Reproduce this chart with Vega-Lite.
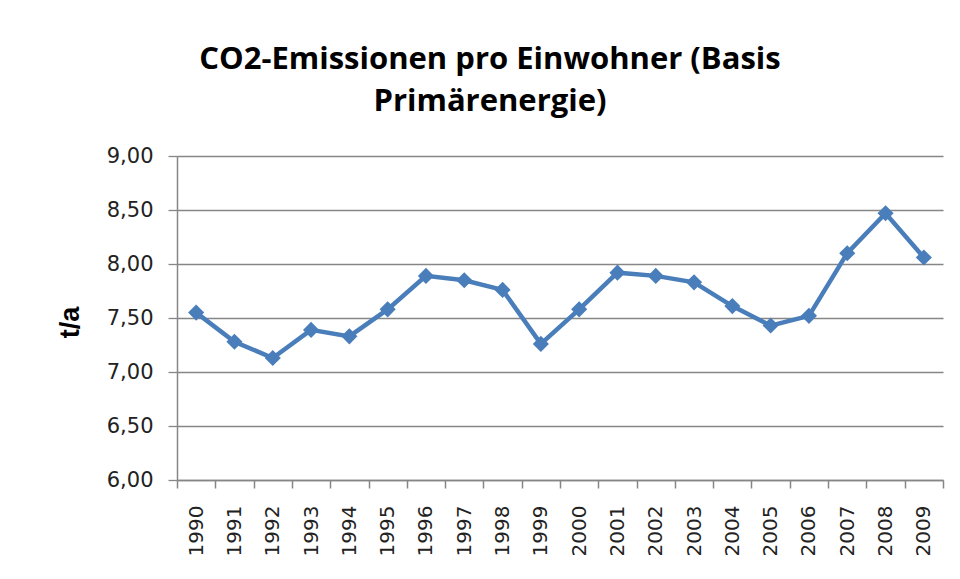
{
  "$schema": "https://vega.github.io/schema/vega-lite/v6.json",
  "width": 766,
  "height": 324,
  "autosize": {"type": "none"},
  "padding": {"left": 177, "top": 156, "right": 17, "bottom": 99},
  "background": "white",
  "title": {
    "text": ["CO2-Emissionen pro Einwohner (Basis", "Primärenergie)"],
    "font": "Open Sans",
    "fontSize": 31,
    "fontWeight": "bold",
    "color": "#000000",
    "anchor": "middle",
    "dx": -70,
    "offset": 27,
    "lineHeight": 42
  },
  "config": {"view": {"stroke": null}},
  "data": {
    "values": [
      {"year": "1990", "value": 7.55},
      {"year": "1991", "value": 7.28},
      {"year": "1992", "value": 7.13},
      {"year": "1993", "value": 7.39},
      {"year": "1994", "value": 7.33},
      {"year": "1995", "value": 7.58},
      {"year": "1996", "value": 7.89},
      {"year": "1997", "value": 7.85},
      {"year": "1998", "value": 7.76},
      {"year": "1999", "value": 7.26},
      {"year": "2000", "value": 7.58},
      {"year": "2001", "value": 7.92},
      {"year": "2002", "value": 7.89},
      {"year": "2003", "value": 7.83},
      {"year": "2004", "value": 7.61},
      {"year": "2005", "value": 7.43},
      {"year": "2006", "value": 7.52},
      {"year": "2007", "value": 8.10},
      {"year": "2008", "value": 8.47},
      {"year": "2009", "value": 8.06}
    ]
  },
  "encoding": {
    "x": {
      "field": "year",
      "type": "ordinal",
      "bandPosition": 0.5,
      "scale": {"type": "band", "paddingInner": 0, "paddingOuter": 0},
      "axis": {
        "title": null,
        "tickBand": "extent",
        "labelAngle": 270,
        "grid": false,
        "domainColor": "#868686",
        "domainWidth": 1.5,
        "tickColor": "#868686",
        "tickWidth": 1.5,
        "tickSize": 8,
        "labelPadding": 17,
        "labelFont": "DejaVu Sans",
        "labelFontSize": 20,
        "labelColor": "#222222"
      }
    },
    "y": {
      "field": "value",
      "type": "quantitative",
      "scale": {"domain": [6, 9], "nice": false, "zero": false},
      "axis": {
        "values": [6, 6.5, 7, 7.5, 8, 8.5, 9],
        "labelExpr": "replace(format(datum.value, '.2f'), '.', ',')",
        "grid": true,
        "gridColor": "#868686",
        "gridWidth": 1.3,
        "domainColor": "#868686",
        "domainWidth": 1.5,
        "tickColor": "#868686",
        "tickWidth": 1.3,
        "tickSize": 9,
        "labelPadding": 15,
        "labelFont": "DejaVu Sans",
        "labelFontSize": 21,
        "labelColor": "#222222",
        "title": "t/a",
        "titleFont": "Liberation Sans",
        "titleFontSize": 27,
        "titleFontWeight": "bold",
        "titleColor": "#000000",
        "titleAngle": 270,
        "titleAlign": "center",
        "titleBaseline": "middle",
        "titleX": -107,
        "titleY": 166
      }
    }
  },
  "layer": [
    {"mark": {"type": "line", "color": "#4A7EBB", "strokeWidth": 4.5}},
    {"mark": {"type": "point", "shape": "diamond", "filled": true, "size": 260, "color": "#4A7EBB", "opacity": 1}}
  ]
}
